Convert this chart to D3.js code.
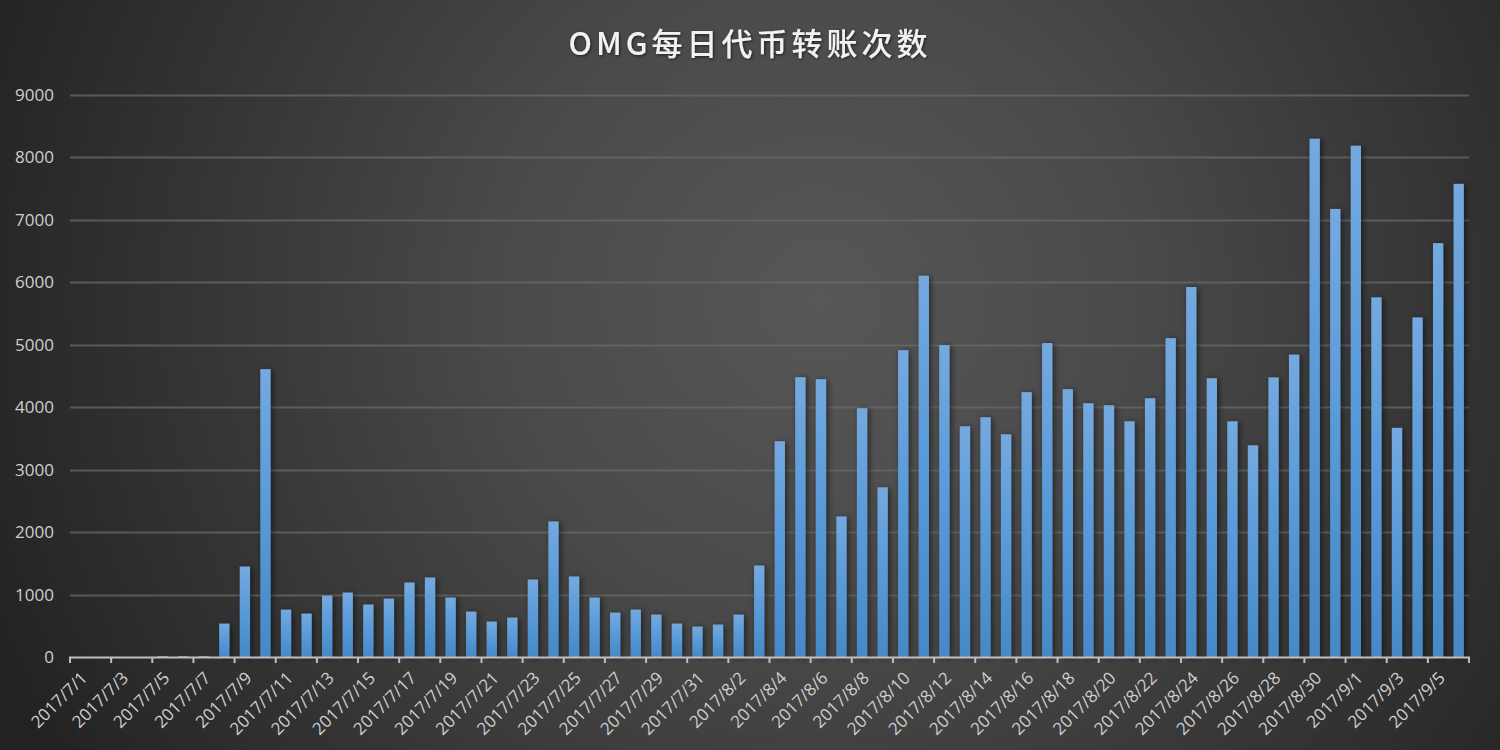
<!DOCTYPE html>
<html lang="zh">

<head>
  <meta charset="UTF-8">
  <title>OMG每日代币转账次数</title>
  <script src="https://cdn.jsdelivr.net/npm/d3@7/dist/d3.min.js"></script>
  <style>
    body {
      margin: 0;
      background: #222;
    }

    svg {
      display: block;
    }

    .axis text {
      font-family: "Open Sans", "Noto Sans", "Liberation Sans", sans-serif;
      font-size: 17px;
      fill: #cfcfcf;
    }

    .axis path {
      display: none;
    }
  </style>
</head>

<body>
  <div id="chart"></div>
  <script>
    // categories: one per day, 2017/7/1 .. 2017/9/6
    const dates = [
      "2017/7/1", "2017/7/2", "2017/7/3", "2017/7/4", "2017/7/5", "2017/7/6", "2017/7/7", "2017/7/8",
      "2017/7/9", "2017/7/10", "2017/7/11", "2017/7/12", "2017/7/13", "2017/7/14", "2017/7/15", "2017/7/16",
      "2017/7/17", "2017/7/18", "2017/7/19", "2017/7/20", "2017/7/21", "2017/7/22", "2017/7/23", "2017/7/24",
      "2017/7/25", "2017/7/26", "2017/7/27", "2017/7/28", "2017/7/29", "2017/7/30", "2017/7/31",
      "2017/8/1", "2017/8/2", "2017/8/3", "2017/8/4", "2017/8/5", "2017/8/6", "2017/8/7", "2017/8/8",
      "2017/8/9", "2017/8/10", "2017/8/11", "2017/8/12", "2017/8/13", "2017/8/14", "2017/8/15", "2017/8/16",
      "2017/8/17", "2017/8/18", "2017/8/19", "2017/8/20", "2017/8/21", "2017/8/22", "2017/8/23", "2017/8/24",
      "2017/8/25", "2017/8/26", "2017/8/27", "2017/8/28", "2017/8/29", "2017/8/30", "2017/8/31",
      "2017/9/1", "2017/9/2", "2017/9/3", "2017/9/4", "2017/9/5", "2017/9/6"
    ]

    const transfers = [
      0, 0, 0, 0, 15, 15, 15, 535,
      1449, 4610, 759, 695, 984, 1032, 840, 936,
      1193, 1273, 952, 727, 567, 631, 1241, 2171,
      1289, 952, 711, 759, 679, 535, 487,
      519, 679, 1465, 3455, 4481, 4449, 2251, 3984,
      2717, 4914, 6106, 4995, 3695, 3840, 3567, 4241,
      5027, 4289, 4064, 4032, 3775, 4144, 5107, 5925,
      4465, 3775, 3390, 4478, 4843, 8300, 7175,
      8188, 5760, 3670, 5438, 6628, 7577
    ]

    const yTicks = [0, 1000, 2000, 3000, 4000, 5000, 6000, 7000, 8000, 9000]
    const titleText = "OMG每日代币转账次数"

    const width = 1500
    const height = 750
    const plotLeft = 70
    const plotRight = 1469
    const plotTop = 95
    const plotBottom = 657

    const svg = d3.select("#chart")
      .append("svg")
      .attr("width", width)
      .attr("height", height)

    const defs = svg.append("defs")

    const bg = defs.append("radialGradient")
      .attr("id", "bg")
      .attr("gradientUnits", "userSpaceOnUse")
      .attr("cx", 820).attr("cy", 300)
      .attr("r", 900)
    bg.append("stop").attr("offset", "0%").attr("stop-color", "#575757")
    bg.append("stop").attr("offset", "35%").attr("stop-color", "#4a4a4a")
    bg.append("stop").attr("offset", "100%").attr("stop-color", "#222222")

    const barGrad = defs.append("linearGradient")
      .attr("id", "bar")
      .attr("x1", 0).attr("y1", 0).attr("x2", 0).attr("y2", 1)
    barGrad.append("stop").attr("offset", "0%").attr("stop-color", "#74a9df")
    barGrad.append("stop").attr("offset", "45%").attr("stop-color", "#5b9bd9")
    barGrad.append("stop").attr("offset", "100%").attr("stop-color", "#4688c8")

    const shadow = defs.append("filter")
      .attr("id", "shadow")
      .attr("x", "-100%").attr("y", "-10%")
      .attr("width", "300%").attr("height", "120%")
    shadow.append("feDropShadow")
      .attr("dx", 2).attr("dy", 1)
      .attr("stdDeviation", 3)
      .attr("flood-color", "#000")
      .attr("flood-opacity", 0.55)

    const tShadow = defs.append("filter").attr("id", "tshadow")
    tShadow.append("feDropShadow")
      .attr("dx", 1).attr("dy", 1)
      .attr("stdDeviation", 1.5)
      .attr("flood-color", "#000")
      .attr("flood-opacity", 0.6)

    svg.append("rect")
      .attr("width", width)
      .attr("height", height)
      .attr("fill", "url(#bg)")

    svg.append("text")
      .attr("x", 750)
      .attr("y", 55)
      .attr("text-anchor", "middle")
      .attr("fill", "#f2f2f2")
      .attr("filter", "url(#tshadow)")
      .style("font-family", "'Noto Sans CJK SC', 'Noto Sans', sans-serif")
      .style("font-size", "31px")
      .style("font-weight", "500")
      .style("letter-spacing", "4px")
      .text(titleText)

    const x = d3.scaleBand()
      .domain(dates)
      .range([plotLeft, plotRight])
      .paddingInner(0.5)
      .paddingOuter(0.25)

    const y = d3.scaleLinear()
      .domain([0, 9000])
      .range([plotBottom, plotTop])

    // gridlines
    svg.append("g")
      .selectAll("line")
      .data(yTicks.filter(d => d > 0))
      .enter()
      .append("line")
      .attr("x1", plotLeft)
      .attr("x2", plotRight)
      .attr("y1", d => Math.round(y(d)) + 0.5)
      .attr("y2", d => Math.round(y(d)) + 0.5)
      .attr("stroke", "#6a6a6a")
      .attr("stroke-opacity", 0.75)
      .attr("stroke-width", 2)

    const yAxis = d3.axisLeft(y)
      .tickValues(yTicks)
      .tickFormat(d3.format("d"))
      .tickSize(0)
      .tickPadding(16)

    svg.append("g")
      .attr("class", "axis")
      .attr("transform", `translate(${plotLeft}, 0)`)
      .call(yAxis)

    // bars
    svg.append("g")
      .selectAll("rect")
      .data(dates)
      .enter()
      .append("rect")
      .attr("x", d => x(d))
      .attr("y", (d, i) => y(transfers[i]))
      .attr("width", x.bandwidth())
      .attr("height", (d, i) => plotBottom - y(transfers[i]))
      .attr("fill", "url(#bar)")
      .attr("filter", (d, i) => transfers[i] > 100 ? "url(#shadow)" : null)

    // x axis: labels on every other day
    const xAxis = d3.axisBottom(x)
      .tickValues(dates.filter((d, i) => i % 2 === 0))
      .tickSize(0)
      .tickPadding(0)

    const gx = svg.append("g")
      .attr("class", "axis")
      .attr("transform", `translate(0, ${plotBottom})`)
      .call(xAxis)

    gx.selectAll("text")
      .attr("text-anchor", "end")
      .attr("dy", null)
      .attr("y", 0)
      .attr("transform", "translate(8, 22) rotate(-45)")

    // axis line and ticks at category boundaries
    const off = x.step() * x.paddingInner() / 2
    const bounds = dates.filter((d, i) => i % 2 === 0).map(d => x(d) - off)
    bounds.push(plotRight)

    svg.append("line")
      .attr("x1", plotLeft - 1)
      .attr("x2", plotRight + 1)
      .attr("y1", plotBottom + 0.5)
      .attr("y2", plotBottom + 0.5)
      .attr("stroke", "#bfbfbf")
      .attr("stroke-width", 2)

    svg.append("g")
      .selectAll("line")
      .data(bounds)
      .enter()
      .append("line")
      .attr("x1", d => d)
      .attr("x2", d => d)
      .attr("y1", plotBottom)
      .attr("y2", plotBottom + 6)
      .attr("stroke", "#bfbfbf")
      .attr("stroke-width", 2)
  </script>
</body>

</html>
